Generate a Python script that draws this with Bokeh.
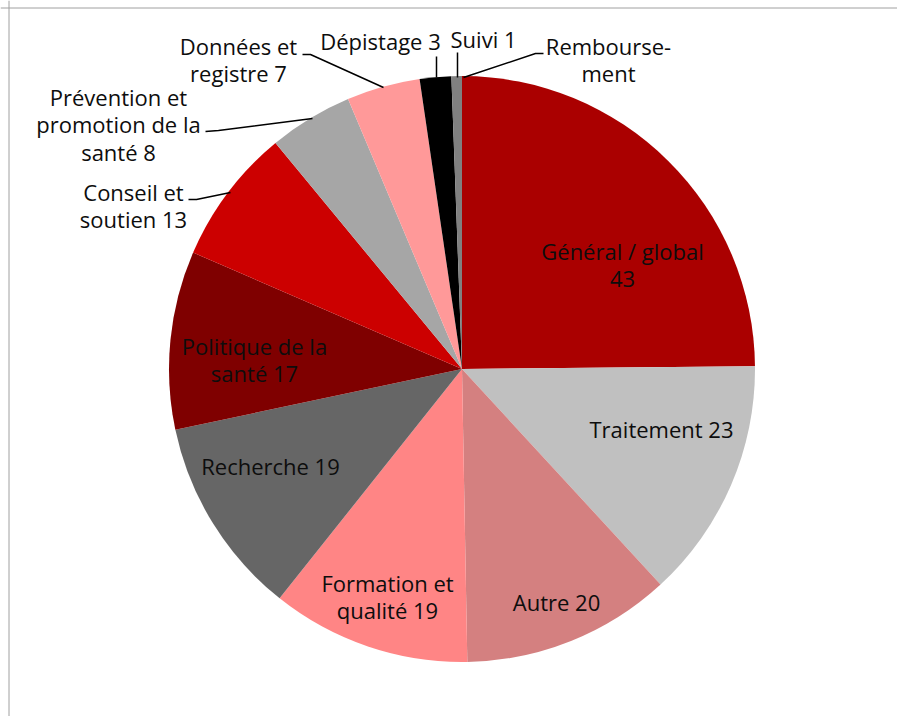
import math
from bokeh.plotting import figure
from bokeh.models import ColumnDataSource, Range1d, Span
from bokeh.core.properties import value
from bokeh.embed import file_html
from bokeh.resources import INLINE

# ---- data ----
categories = ["Général / global", "Traitement", "Autre", "Formation et qualité",
              "Recherche", "Politique de la santé", "Conseil et soutien",
              "Prévention et promotion de la santé", "Données et registre",
              "Dépistage", "Suivi", "Remboursement"]
counts = [43, 23, 20, 19, 19, 17, 13, 8, 7, 3, 1, 0]
colors = ["#AA0000", "#C0C0C0", "#D48080", "#FF8585", "#666666", "#7F0000",
          "#CC0000", "#A6A6A6", "#FF9999", "#000000", "#808080", "#C0C0C0"]
label_texts = ["Général / global\n43", "Traitement 23", "Autre 20",
               "Formation et\nqualité 19", "Recherche 19", "Politique de la\nsanté 17",
               "Conseil et\nsoutien 13", "Prévention et\npromotion de la\nsanté 8",
               "Données et\nregistre 7", "Dépistage 3", "Suivi 1", "Rembourse-\nment"]

W, H = 897, 716
def X(px): return px
def Y(py): return H - py

# label centres (page pixels)
label_pos = [(622, 264), (661, 428), (556, 601), (387, 596), (270, 465), (254, 359),
             (133, 205), (118, 124), (238, 59), (380, 40), (483, 38), (608, 59)]
# leader lines (page pixels)
leaders = {
    "Données et registre": [(302, 54), (310, 54), (383, 87)],
    "Prévention et promotion de la santé": [(205, 131), (218, 130), (312, 118)],
    "Conseil et soutien": [(188, 199), (196, 199), (230, 192)],
    "Dépistage": [(436, 56), (436, 77)],
    "Suivi": [(457, 52), (457, 77)],
    "Remboursement": [(543, 53), (535, 53), (463, 77)],
}

p = figure(width=W, height=H, output_backend="svg", toolbar_location=None,
           x_range=Range1d(0, W), y_range=Range1d(0, H), min_border=0)
p.axis.visible = False
p.grid.visible = False
p.outline_line_color = None
p.background_fill_color = "white"
p.border_fill_color = "white"

cx, cy, r = X(461.5), Y(368.5), 293
total = sum(counts)
starts, ends, cols = [], [], []
cum = 0
for c, col in zip(counts, colors):
    a0 = math.pi / 2 - 2 * math.pi * cum / total
    cum += c
    a1 = math.pi / 2 - 2 * math.pi * cum / total
    if c > 0:
        starts.append(a0); ends.append(a1); cols.append(col)
src = ColumnDataSource(dict(start=starts, end=ends, color=cols))
p.wedge(x=cx, y=cy, radius=r, start_angle="start", end_angle="end",
        direction="clock", fill_color="color", line_color=None, source=src)

for name, pts in leaders.items():
    p.line([X(a) for a, b in pts], [Y(b) for a, b in pts], line_color="black", line_width=1.5)

lsrc = ColumnDataSource(dict(x=[X(a) for a, b in label_pos], y=[Y(b) for a, b in label_pos],
                             text=label_texts))
p.text(x="x", y="y", text="text", source=lsrc, text_align="center",
       text_baseline="middle", text_font=value("Open Sans"), text_font_size="22px",
       text_color="#0d0d0d", text_line_height=0.93)

p.add_layout(Span(location=X(8.5), dimension="height", line_color="#A0A0A0", line_width=1))
p.add_layout(Span(location=Y(7.5), dimension="width", line_color="#A0A0A0", line_width=1))

open("out.html", "w").write(file_html(p, INLINE))
